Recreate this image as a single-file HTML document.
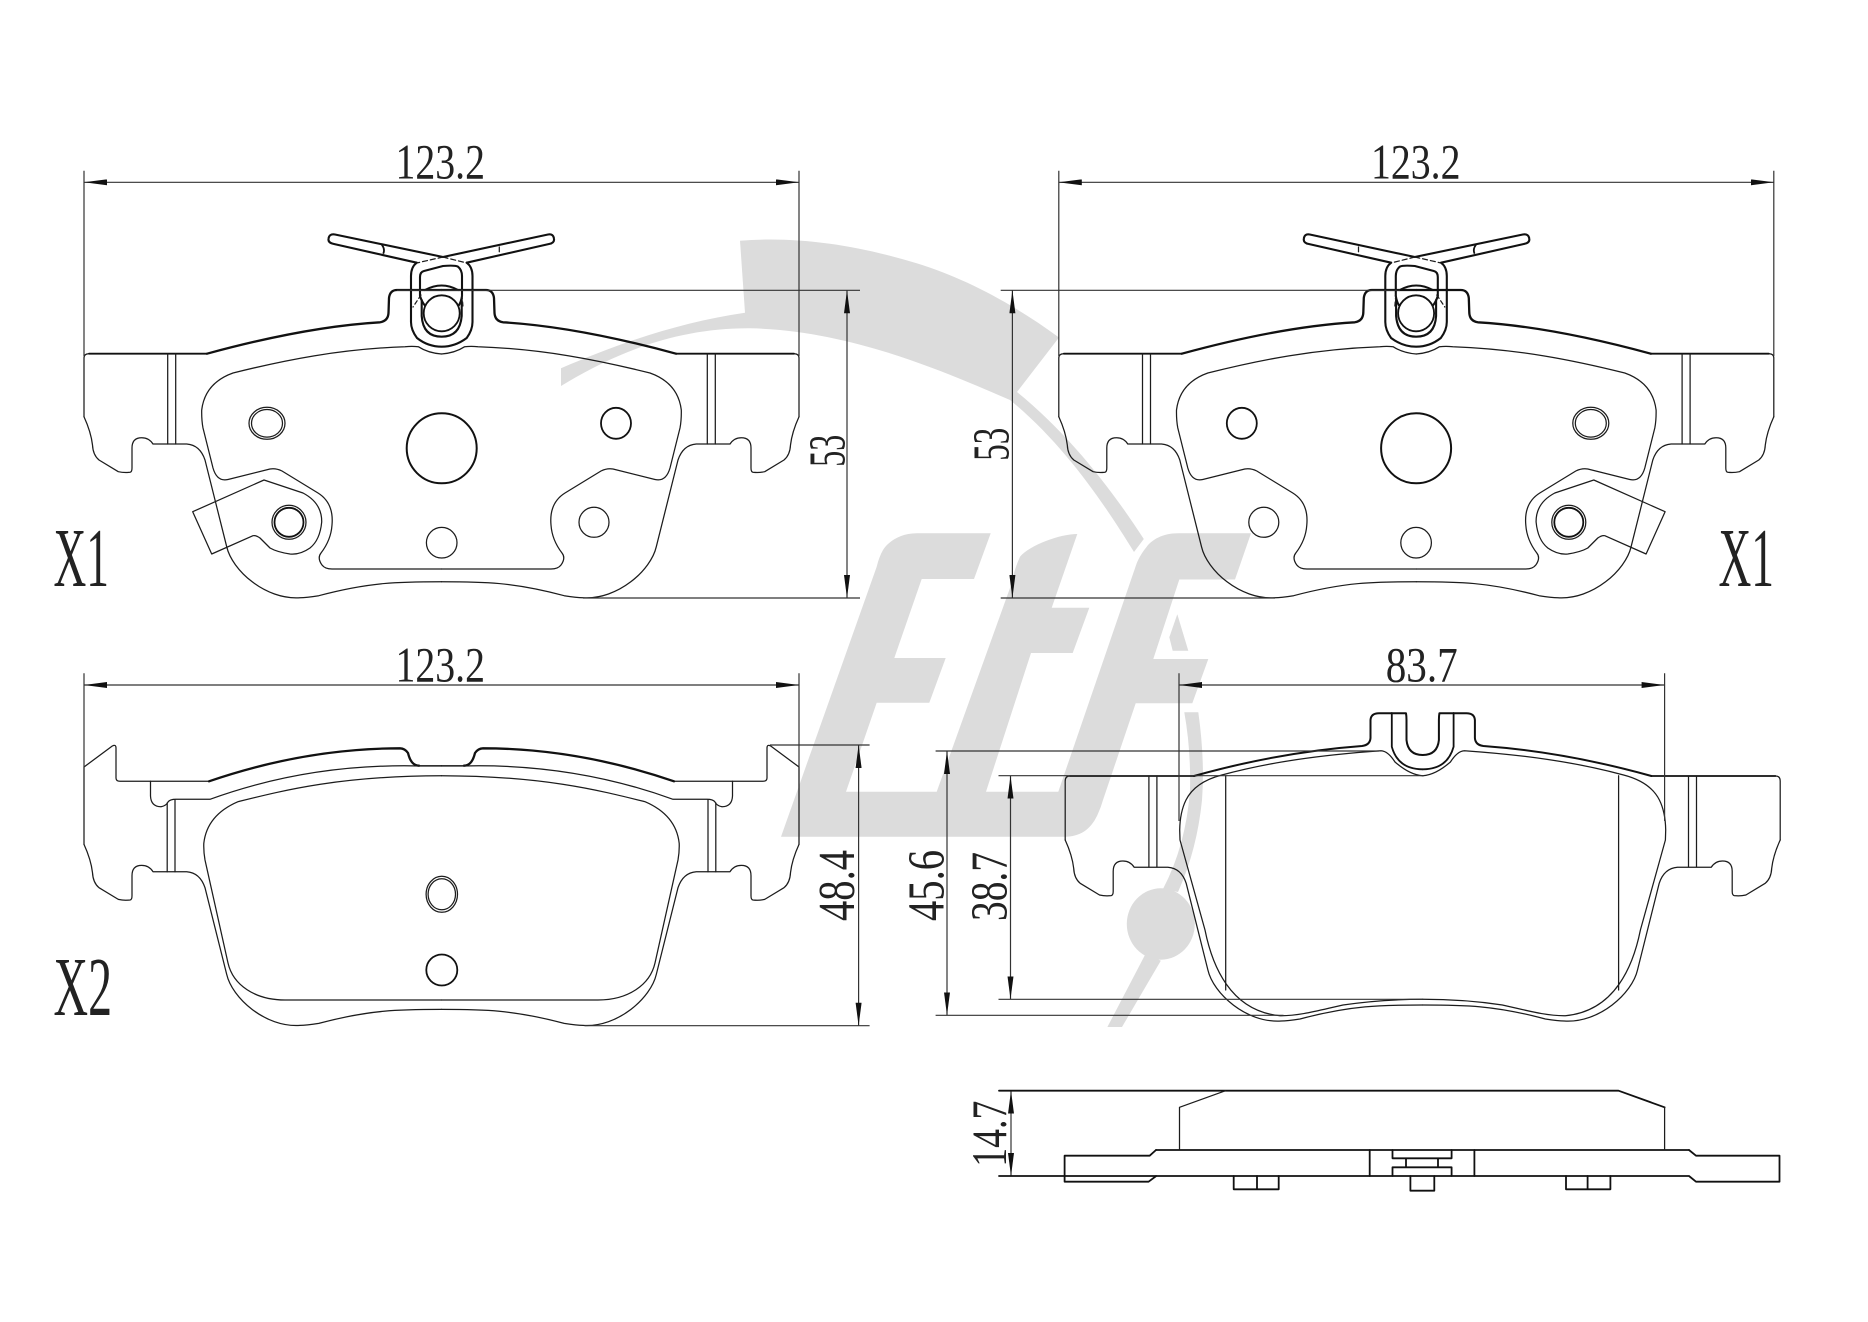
<!DOCTYPE html>
<html><head><meta charset="utf-8"><style>
html,body{margin:0;padding:0;background:#fff}
svg{display:block}
.l{fill:none;stroke:#1c1c1c;stroke-width:1.25;stroke-linejoin:round;stroke-linecap:round}
.t{fill:none;stroke:#111;stroke-width:2.3;stroke-linejoin:round;stroke-linecap:round}
.m{fill:none;stroke:#111;stroke-width:1.8;stroke-linejoin:round;stroke-linecap:round}
.w{fill:none;stroke:#111;stroke-width:2.1;stroke-linejoin:round;stroke-linecap:round}
.d{fill:none;stroke:#333;stroke-width:1.2}
text{font-family:"Liberation Serif",serif;fill:#222;font-size:50px}
</style></head><body>
<svg width="1868" height="1322" viewBox="0 0 1868 1322" xmlns="http://www.w3.org/2000/svg">
<defs>
<marker id="a" markerUnits="userSpaceOnUse" markerWidth="23" markerHeight="6" refX="23" refY="3" orient="auto-start-reverse"><path d="M0,0L23,3L0,6z" fill="#111"/></marker>
<path id="low" class="l" d="M84,416.7 Q91,432 92.5,445 Q93,455 99,460 L118.3,471.7 Q124,473 130,472.3 Q132,472 132,468 L132,448 Q132,437.7 141.7,437.7 Q149,437.7 153,444 L186.7,444 Q200,445 205,460 L226.7,546.7 C232,570 265,600 300,597.7 Q306,597.7 318.8,595.7 C370,582 400,581.7 441.5,581.7"/>
<g id="half1">
<use href="#low"/>
<path class="l" d="M84,416.7 V358 Q84,353.7 89,353.7"/>
<path class="m" d="M89,353.7 H207"/>
<path class="l" d="M167.7,353.7V444 M175.7,353.7V444"/>
<path class="t" d="M207,353.7 Q306.5,326.6 380,322.3 Q388,321 388.5,313 L389,298 Q390,290 397,290 H441.5"/>
<path class="l" d="M441.5,354 Q428,353 418.3,346.7 Q412,346 405,346.7 C340,349 285,360 233,373 Q205,383 201.7,410 Q201.5,420 203,428 L213,468 Q217,482 228,479.5 L270,469 Q276,468 282,471 L318,493 Q334,503 332,525 Q331,540 321,553 Q317,558 322,565 Q325,569 332,569 H441.5"/>
</g>
<g id="pad1">
<use href="#half1"/>
<use href="#half1" transform="translate(883,0) scale(-1,1)"/>
<path class="l" d="M192.7,511.7 L264,480 L303,493 Q322,503 321.7,522 Q320,540 310,548 Q300,555 290,554 Q277,552 270,548 L260,538 Q256,535 253,535.7 L211.7,554 Z"/>
<ellipse class="l" cx="267" cy="423.3" rx="18" ry="16"/><ellipse class="l" cx="267" cy="423.3" rx="15.5" ry="13.8"/>
<circle class="l" cx="289" cy="522.3" r="17"/><circle class="m" cx="289" cy="522.3" r="14.5"/>
<circle class="l" cx="441.7" cy="542.7" r="15.3"/>
<circle class="l" cx="594" cy="522.3" r="15"/>
<ellipse class="m" cx="616" cy="423.3" rx="15" ry="15.5"/>
<circle class="t" cx="441.7" cy="448.3" r="35" style="stroke-width:2"/>
<path class="w" d="M466.7,262.7 L549,244 Q554.5,243 554,239 Q553.5,233.5 548,234.5 L443,257 L335,234.5 Q329,233.5 328.5,239 Q328,243 334,244 L416.7,262.7"/>
<path class="l" stroke-dasharray="5 3" d="M443,257 L466.7,263 M443,257 L416.7,263"/>
<path class="m" d="M382,245 Q385,249 383.5,253"/><path class="l" d="M499.3,247V251.7"/>
<path class="w" d="M416.7,262.7 Q411,267 411,276 V322 Q411,330 417,338 Q428,346.7 441.7,346.7 Q455,346.7 466.7,338 Q472.5,330 472.5,322 V276 Q472.5,267 466.7,262.7"/>
<path class="w" d="M420,296 V277 Q420,272 424,271 L443,266 Q455,265 458,266.7 Q462,270 462,276 V296"/>
<path class="w" d="M420,296 Q422,302 424.5,305 M462,296 Q461,302 459,305"/>
<path class="w" d="M421.7,300 V316 Q423,336.7 441.7,336.7 Q460,336.7 461.7,316 V300"/>
<path class="w" d="M425,290 Q441.7,281 458,290"/>
<path class="l" stroke-dasharray="4 3" d="M421,295 L413,307 M462,295 L463,307"/>
<circle class="m" cx="441.7" cy="313.3" r="18"/>
</g>
<g id="half3">
<use href="#low" transform="translate(0,427.7)"/>
<path class="l" d="M84,844.4 V767 L112.3,746 Q116,744 116,748 V778 Q116,781.3 120,781.3 H209"/>
<path class="t" d="M209,781.3 Q305,748.4 400,748.3 Q405,748.5 408,753 Q411,765.7 419,765.7"/>
<path class="l" d="M419,765.7 H441.5"/>
<path class="l" d="M150.5,781.3 V796 Q151,806.7 161,806.7 Q166,806 168,802 Q170,799.3 176,799.3 H210 Q310,763 421,766 H441.5"/>
<path class="l" d="M167.2,803V871.7 M175,800V871.7"/>
<path class="l" d="M441.5,775.7 C340,776 285,790 238,801.7 Q207,815 203.8,843.3 Q203.5,852 205,860 L228,963 C233,985 255,1000 285,1000 H441.5"/>
</g>
<g id="half4">
<use href="#low" transform="translate(981.2,423.3)"/>
<path class="l" d="M1065.2,840 V781 Q1065.2,776 1070,776"/>
<path class="m" d="M1070,776 H1194"/>
<path class="l" d="M1148.9,776V867 M1156.9,776V867"/>
<path class="t" d="M1194,776 Q1280,752 1362,746 Q1370,745 1370.5,738 V720 Q1371,713.3 1379,713.3 H1406 Q1406.5,716 1406.5,720 V740 Q1408,755 1422.7,755" style="stroke-width:2"/>
<path class="m" d="M1391.8,713 V746.7 Q1398,769.3 1422.7,769.3"/>
<path class="l" d="M1422.7,775.7 Q1410,775 1395,762 Q1388,751 1381,750.7 C1320,755 1270,762 1221.8,775 Q1195,782 1186,800 Q1180,812 1179.7,830 L1180,840 L1205,930 C1212,965 1230,1011 1280,1015.7 C1300,1016 1320,1010 1343,1005 C1370,1001 1395,999.3 1422.7,999.3"/>
</g>
</defs>

<!-- watermark -->
<g fill="#dcdcdc">
<path d="M561,368.3 C620,343 680,322 745,312.7 L740,240.7 C800,236 860,246 916.7,263.3 C965,278 1015,305 1059,337.5 L1017,392 C1070,435 1112,490 1143.8,539 L1134,552 C1105,505 1065,445 1010,400 C945,372 850,330 750,328.3 C680,328 620,350 561,386 Z"/>
<path d="M990.7,533.3 H916.7 C900,533.3 888,542 883,550 Q879,557 876.7,566.7 L781,836.7 H1066.7 C1082,836 1092,828 1098.3,813 Q1101,807 1103,800 L1135.7,703.3 H1192.3 L1208.3,659 H1153.3 L1179.3,579.5 H1235 L1251,533.3 H1178.3 C1162,533.3 1152,540 1146.7,546.7 Q1140,555 1136.7,563.3 L1058.3,791.7 H986 L1031,653 H1072.7 L1089.3,607.7 H1051.7 L1077.3,534 C1060,534 1030,545 1020,556.7 Q1014,570 1011.7,583.3 L936.7,791.7 H846 L876.7,702.7 H929.3 L945.7,658 H894.3 L921.7,579 H974 Z"/>
<path d="M1177.3,614.3 L1188.3,650.7 H1172.7 L1169.3,637.3 Z"/>
<path d="M1184.3,712.3 H1198.3 Q1205,760 1202,800 Q1197,850 1178,892 L1163,889 Q1186,845 1190,790 Q1191,750 1184.3,712.3 Z"/>
<ellipse cx="1160.8" cy="924" rx="34" ry="35.7"/>
<path d="M1146,953 L1107.4,1027 H1122 L1160.8,960.7 Z"/>
</g>

<use href="#pad1"/>
<use href="#pad1" transform="translate(1857.8,0) scale(-1,1)"/>
<use href="#half3"/>
<use href="#half3" transform="translate(883,0) scale(-1,1)"/>
<ellipse class="l" cx="441.8" cy="894.3" rx="15.7" ry="18"/><ellipse class="l" cx="441.8" cy="894.3" rx="13.7" ry="15.5"/>
<circle class="m" cx="441.8" cy="970" r="15.5"/>
<use href="#half4"/>
<use href="#half4" transform="translate(2845.4,0) scale(-1,1)"/>
<path class="l" d="M1225.7,775.7V990 M1618.6,775.7V990"/>

<!-- dims -->
<g class="d">
<path d="M84,170.7V356 M799,170.7V356 M1058.8,170.7V356 M1773.8,170.7V356"/>
<line x1="84" y1="182.3" x2="799" y2="182.3" marker-start="url(#a)" marker-end="url(#a)"/>
<line x1="1058.8" y1="182.3" x2="1773.8" y2="182.3" marker-start="url(#a)" marker-end="url(#a)"/>
<path d="M397,290.3H860 M583,598H860 M1000.7,290.3H1400 M1000.7,598H1275"/>
<line x1="847" y1="290.3" x2="847" y2="598" marker-start="url(#a)" marker-end="url(#a)"/>
<line x1="1012.4" y1="290.3" x2="1012.4" y2="598" marker-start="url(#a)" marker-end="url(#a)"/>
<path d="M84,673.3V767 M799,673.3V844 M1179,673.3V821 M1664.6,673.3V821"/>
<line x1="84" y1="685" x2="799" y2="685" marker-start="url(#a)" marker-end="url(#a)"/>
<line x1="1179" y1="685" x2="1664.6" y2="685" marker-start="url(#a)" marker-end="url(#a)"/>
<path d="M770,745H869.6 M584.6,1025.7H869.6"/>
<line x1="858.6" y1="745" x2="858.6" y2="1025.7" marker-start="url(#a)" marker-end="url(#a)"/>
<path d="M935.6,751H1379 M998.5,775.7H1423.8 M998.5,999.3H1423 M935.6,1015.3H1283.5"/>
<line x1="947" y1="751" x2="947" y2="1015.3" marker-start="url(#a)" marker-end="url(#a)"/>
<line x1="1010.5" y1="775.7" x2="1010.5" y2="999.3" marker-start="url(#a)" marker-end="url(#a)"/>
<line x1="1011" y1="1090.7" x2="1011" y2="1176" marker-start="url(#a)" marker-end="url(#a)"/>
</g>

<!-- side view -->
<path class="m" d="M999,1090.7H1618.5 L1664.6,1107.3 M999,1176H1156.2 M1156,1150H1689"/>
<path class="l" d="M1225.6,1090.7 L1179.5,1107.3 V1150 M1664.6,1107.3 V1150"/>
<path class="m" d="M1156,1150 L1149.7,1155.7 H1064.6 V1181.7 H1148.6 L1156.2,1176 H1689 L1696,1181.7 H1779.5 V1155.7 H1696 L1689,1150"/>
<path class="m" d="M1369.7,1150V1176 M1474.4,1150V1176 M1392.5,1150V1158.3H1451.6V1150 M1406,1158.3V1167.3 M1438,1158.3V1167.3 M1392.5,1176V1167.3H1451.6V1176"/>
<path class="m" d="M1233.7,1176V1189.3H1278.7V1176 M1257,1176V1189.3 M1566,1176V1189.3H1610.4V1176 M1587.6,1176V1189.3 M1410.4,1176V1190.7H1434.3V1176"/>

<!-- text -->
<text x="395.5" y="178.5" textLength="89.5" lengthAdjust="spacingAndGlyphs" style="font-size:50px">123.2</text>
<text x="1371" y="178.5" textLength="89.5" lengthAdjust="spacingAndGlyphs" style="font-size:50px">123.2</text>
<text x="395.5" y="681.7" textLength="89.5" lengthAdjust="spacingAndGlyphs" style="font-size:50px">123.2</text>
<text x="1385.7" y="681.7" textLength="72" lengthAdjust="spacingAndGlyphs" style="font-size:50px">83.7</text>
<text transform="translate(844.5,466.7) rotate(-90)" textLength="32" lengthAdjust="spacingAndGlyphs" style="font-size:52px">53</text>
<text transform="translate(1008.5,460.7) rotate(-90)" textLength="33" lengthAdjust="spacingAndGlyphs" style="font-size:52px">53</text>
<text transform="translate(854,921) rotate(-90)" textLength="71" lengthAdjust="spacingAndGlyphs" style="font-size:52px">48.4</text>
<text transform="translate(943.5,921) rotate(-90)" textLength="71" lengthAdjust="spacingAndGlyphs" style="font-size:52px">45.6</text>
<text transform="translate(1006.5,921) rotate(-90)" textLength="69" lengthAdjust="spacingAndGlyphs" style="font-size:52px">38.7</text>
<text transform="translate(1006,1166.7) rotate(-90)" textLength="66" lengthAdjust="spacingAndGlyphs" style="font-size:50px">14.7</text>
<text x="53.5" y="586" textLength="55.5" lengthAdjust="spacingAndGlyphs" style="font-size:84px">X1</text>
<text x="1718.5" y="586" textLength="55.5" lengthAdjust="spacingAndGlyphs" style="font-size:84px">X1</text>
<text x="53.5" y="1015" textLength="58.5" lengthAdjust="spacingAndGlyphs" style="font-size:84px">X2</text>
</svg>
</body></html>
